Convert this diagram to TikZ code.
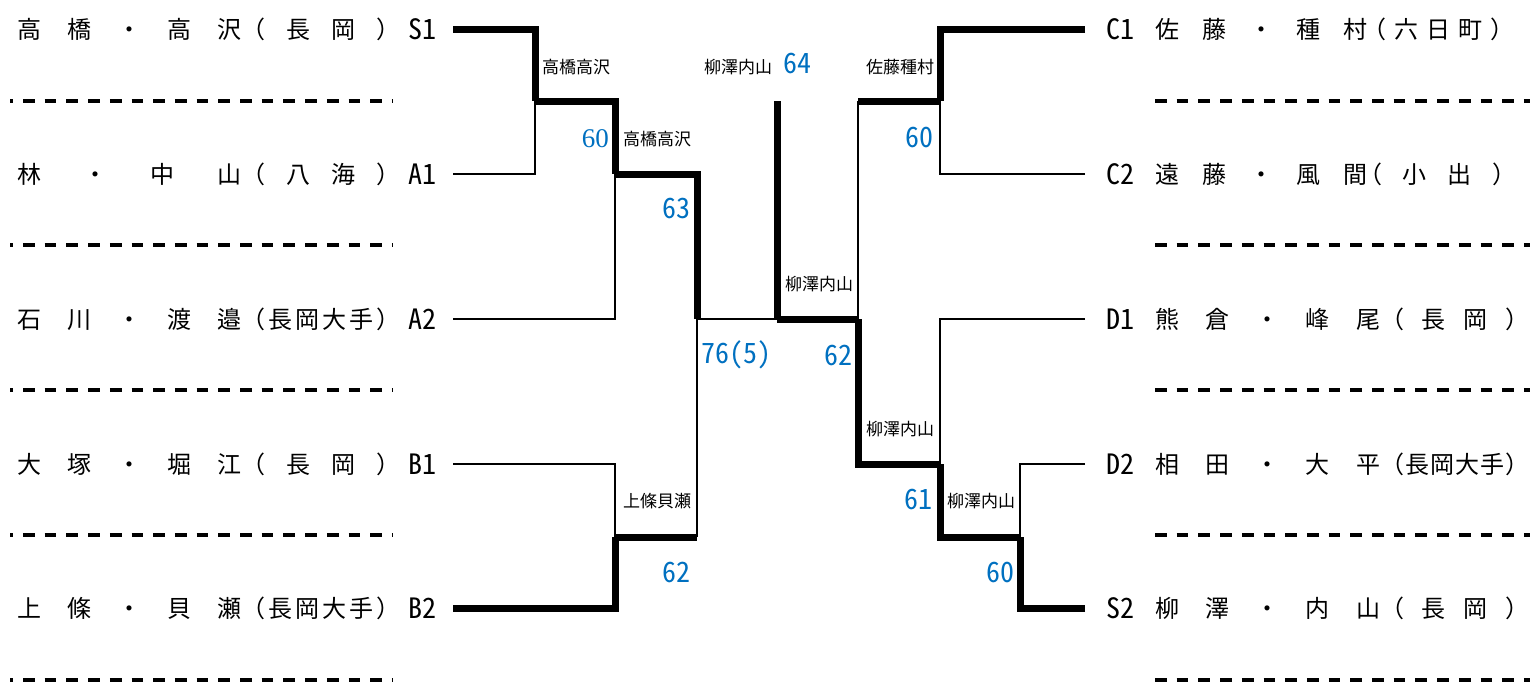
\documentclass[tikz,border=0pt]{standalone}
\usepackage{fontspec}
\usepackage{tikz}

\newfontfamily\jpfont{Noto Sans CJK JP}
\newfontfamily\halffont[RawFeature=+hwid]{Noto Sans CJK JP}
\newfontfamily\numfont{Liberation Serif}
\definecolor{scoreblue}{RGB}{0,112,192}

% spread the characters of a name over a fixed width
\newcommand{\spread}[2]{\makebox[#1][s]{#2}}

\tikzset{
  win/.style={line width=7pt},
  lose/.style={line width=2pt},
  rowsep/.style={line width=4pt, dash pattern=on 11.7pt off 10pt},
  player/.style={font=\jpfont\fontsize{24}{28}\selectfont, inner sep=0pt, anchor=west},
  seed/.style={font=\halffont\fontsize{28}{30}\selectfont, inner sep=0pt},
  winner/.style={font=\jpfont\fontsize{17}{19}\selectfont, inner sep=0pt},
  score/.style={font=\halffont\fontsize{28}{30}\selectfont, text=scoreblue, inner sep=0pt},
  oldscore/.style={font=\numfont\fontsize{27}{29}\selectfont, text=scoreblue, inner sep=0pt}
}

\begin{document}
\begin{tikzpicture}[x=1pt,y=-1pt]
  \useasboundingbox (0,0) rectangle (1530,685);

  % Dashed separators below every pair
  \foreach \y in {100.5,245,390,535,680}{
    \draw[rowsep, dash phase=8.7pt] (10,\y) -- (393,\y);
    \draw[rowsep] (1155,\y) -- (1530,\y);
  }

  % Left half: pairs, clubs and seeds
  \node[player] (p-s1) at (17,29.5) {\spread{224pt}{高\hfil 橋\hfil ・\hfil 高\hfil 沢}};
  \node[player] (h-s1) at (241,29.5) {\spread{159pt}{（\hfil 長\hfil 岡\hfil ）}};
  \node[seed] (s1) at (422,29.5) {S1};

  \node[player] (p-a1) at (17,174) {\spread{224pt}{林\hfil ・\hfil 中\hfil 山}};
  \node[player] (h-a1) at (241,174) {\spread{159pt}{（\hfil 八\hfil 海\hfil ）}};
  \node[seed] (a1) at (422,174) {A1};

  \node[player] (p-a2) at (17,319) {\spread{224pt}{石\hfil 川\hfil ・\hfil 渡\hfil 邉}};
  \node[player] (h-a2) at (241,319) {\spread{159pt}{（\hfil 長\hfil 岡\hfil 大\hfil 手\hfil ）}};
  \node[seed] (a2) at (422,319) {A2};

  \node[player] (p-b1) at (17,464) {\spread{224pt}{大\hfil 塚\hfil ・\hfil 堀\hfil 江}};
  \node[player] (h-b1) at (241,464) {\spread{159pt}{（\hfil 長\hfil 岡\hfil ）}};
  \node[seed] (b1) at (422,464) {B1};

  \node[player] (p-b2) at (17,608) {\spread{224pt}{上\hfil 條\hfil ・\hfil 貝\hfil 瀬}};
  \node[player] (h-b2) at (241,608) {\spread{159pt}{（\hfil 長\hfil 岡\hfil 大\hfil 手\hfil ）}};
  \node[seed] (b2) at (422,608) {B2};

  % Right half: seeds, pairs and clubs
  \node[seed] (c1) at (1120,29.5) {C1};
  \node[player] (p-c1) at (1155,29.5) {\spread{212pt}{佐\hfil 藤\hfil ・\hfil 種\hfil 村}};
  \node[player] (h-c1) at (1362,29.5) {\spread{152pt}{（\hfil 六\hfil 日\hfil 町\hfil ）}};

  \node[seed] (c2) at (1120,174) {C2};
  \node[player] (p-c2) at (1155,174) {\spread{212pt}{遠\hfil 藤\hfil ・\hfil 風\hfil 間}};
  \node[player] (h-c2) at (1358,174) {\spread{158pt}{（\hfil 小\hfil 出\hfil ）}};

  \node[seed] (d1) at (1120,319) {D1};
  \node[player] (p-d1) at (1155,319) {\spread{225pt}{熊\hfil 倉\hfil ・\hfil 峰\hfil 尾}};
  \node[player] (h-d1) at (1380,319) {\spread{149pt}{（\hfil 長\hfil 岡\hfil ）}};

  \node[seed] (d2) at (1120,464) {D2};
  \node[player] (p-d2) at (1155,464) {\spread{225pt}{相\hfil 田\hfil ・\hfil 大\hfil 平}};
  \node[player] (h-d2) at (1380,464) {\spread{149pt}{（\hfil 長\hfil 岡\hfil 大\hfil 手\hfil ）}};

  \node[seed] (s2) at (1120,608) {S2};
  \node[player] (p-s2) at (1155,608) {\spread{225pt}{柳\hfil 澤\hfil ・\hfil 内\hfil 山}};
  \node[player] (h-s2) at (1380,608) {\spread{149pt}{（\hfil 長\hfil 岡\hfil ）}};

  % Line ends next to the seeds
  \coordinate (s1-in) at (453,29.5);
  \coordinate (a1-in) at (453,174);
  \coordinate (a2-in) at (453,319);
  \coordinate (b1-in) at (453,464);
  \coordinate (b2-in) at (453,608);
  \coordinate (c1-in) at (1085,29.5);
  \coordinate (c2-in) at (1085,174);
  \coordinate (d1-in) at (1085,319);
  \coordinate (d2-in) at (1085,464);
  \coordinate (s2-in) at (1085,608);

  % Match points (where the winner leaves)
  \coordinate (m-left1) at (535,101);
  \coordinate (m-left2) at (615,174);
  \coordinate (m-left3) at (615,537);
  \coordinate (m-semi1) at (697,319);
  \coordinate (m-right1) at (940,101);
  \coordinate (m-right2) at (1020,537);
  \coordinate (m-right3) at (940,464);
  \coordinate (m-semi2) at (858,319);
  \coordinate (m-final) at (777,319);
  \coordinate (champ) at (777,101);

  % Left bracket
  \draw[win] (s1-in) -| (m-left1);
  \draw[lose] (a1-in) -| (m-left1);
  \draw[win] (m-left1) -| (m-left2);
  \draw[lose] (a2-in) -| (m-left2);
  \draw[lose] (b1-in) -| (m-left3);
  \draw[win] (b2-in) -| (m-left3);
  \draw[win] (m-left2) -| (m-semi1);
  \draw[win] (m-left3) -- (m-left3 -| m-semi1);
  \draw[lose] (m-left3 -| m-semi1) -- (m-semi1);

  % Right bracket
  \draw[win] (c1-in) -| (m-right1);
  \draw[lose] (c2-in) -| (m-right1);
  \draw[lose] (d2-in) -| (m-right2);
  \draw[win] (s2-in) -| (m-right2);
  \draw[win] (m-right2) -| (m-right3);
  \draw[lose] (d1-in) -| (m-right3);
  \draw[win] (m-right3) -| (m-semi2);
  \draw[win] (m-right1) -- (m-right1 -| m-semi2);
  \draw[lose] (m-right1 -| m-semi2) -- (m-semi2);

  % Final
  \draw[lose] (m-semi1) -- (m-final);
  \draw[win] (m-semi2) -- (m-final);
  \draw[win] (m-final) -- (champ);

  % Winners and scores, left
  \node[winner] (w-left1) at (576,67) {高橋高沢};
  \node[oldscore, anchor=east] (sc-left1) at (609,139) {60};
  \node[winner] (w-left2) at (657,139) {高橋高沢};
  \node[score] (sc-left2) at (676,209) {63};
  \node[winner] (w-left3) at (657,501) {上條貝瀬};
  \node[score] (sc-left3) at (676,572) {62};

  % Final
  \node[winner] (w-final) at (738,67) {柳澤内山};
  \node[score] (sc-final) at (797,64) {64};
  \node[score] (sc-semi1) at (736,355) {76(5)};
  \node[score] (sc-semi2) at (838,355) {62};
  \node[winner] (w-semi2) at (819,284) {柳澤内山};

  % Winners and scores, right
  \node[winner] (w-right1) at (900,67) {佐藤種村};
  \node[score] (sc-right1) at (919,138) {60};
  \node[winner] (w-right3) at (900,429) {柳澤内山};
  \node[score] (sc-right3) at (918,499) {61};
  \node[winner] (w-right2) at (981,501) {柳澤内山};
  \node[score] (sc-right2) at (1000,572) {60};
\end{tikzpicture}
\end{document}
